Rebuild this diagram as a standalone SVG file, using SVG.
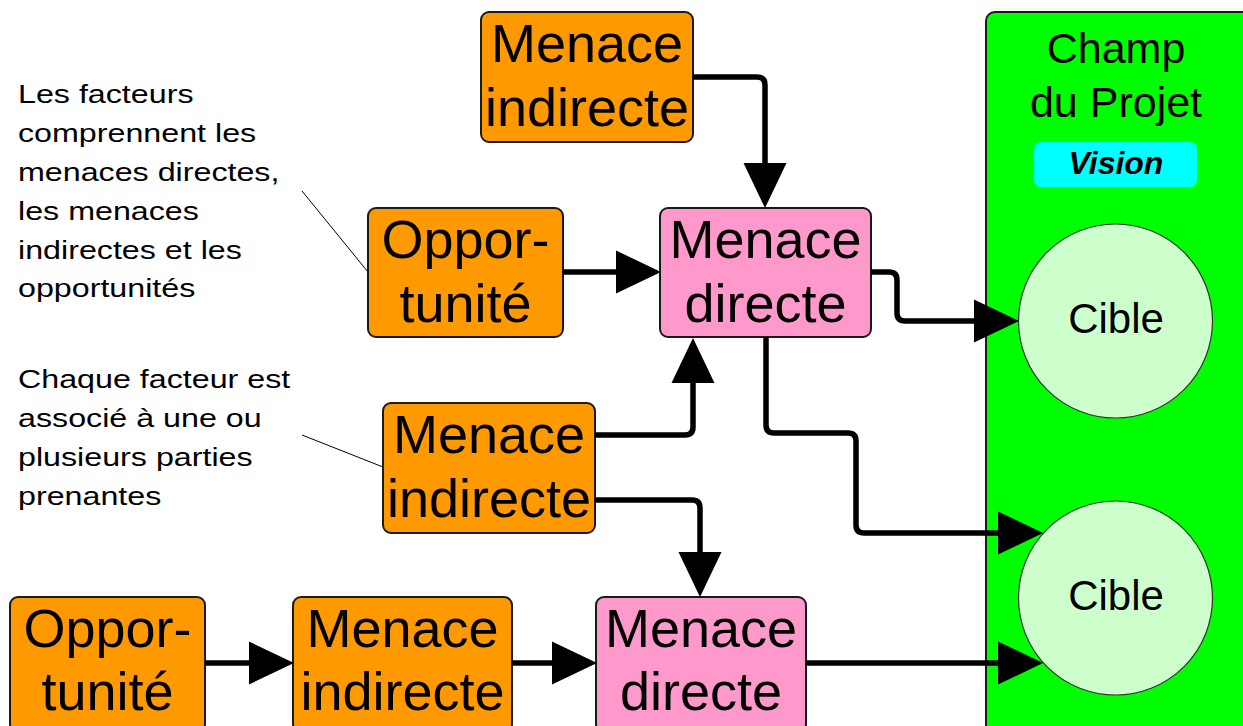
<svg xmlns="http://www.w3.org/2000/svg" width="1243" height="726" viewBox="0 0 1243 726">
<style>
text{font-family:"Liberation Sans",Arial,sans-serif;fill:#000}
.big{font-size:54px;text-anchor:middle}
.box{stroke:#1a1a1a;stroke-width:2}
.orange{fill:#ff9900}
.pink{fill:#ff99cc}
.note{font-size:26px}
.conn{fill:none;stroke:#000;stroke-width:5.5;stroke-linejoin:round}
.lead{stroke:#000;stroke-width:1;fill:none}
</style>
<defs>
<marker id="ah" markerUnits="userSpaceOnUse" markerWidth="46" markerHeight="44" refX="0" refY="21.5" orient="auto" overflow="visible">
<path d="M0,0 L45,21.5 L0,43 Z" fill="#000"/>
</marker>
</defs>
<rect width="1243" height="726" fill="#fff"/>

<g id="champ">
<rect x="986" y="12" width="270" height="725" rx="9" fill="#00ff00" stroke="#1a1a1a" stroke-width="2"/>
<text x="1116" y="63" style="font-size:43px;text-anchor:middle">Champ</text>
<text x="1116" y="117" style="font-size:43px;text-anchor:middle">du Projet</text>
</g>
<g id="vision">
<rect x="1034" y="142" width="163" height="45" rx="7" fill="#00ffff"/>
<text x="1116" y="174" style="font-size:32px;font-weight:bold;font-style:italic;text-anchor:middle">Vision</text>
</g>
<g id="cible1">
<circle cx="1115.5" cy="321" r="97" fill="#ccffcc" stroke="#333" stroke-width="1.2"/>
<text x="1116" y="333" style="font-size:42px;text-anchor:middle">Cible</text>
</g>
<g id="cible2">
<circle cx="1115.5" cy="598" r="97" fill="#ccffcc" stroke="#333" stroke-width="1.2"/>
<text x="1116" y="610" style="font-size:42px;text-anchor:middle">Cible</text>
</g>

<g id="note1">
<g transform="translate(18,0) scale(1.24,1)">
<text class="note" x="0" y="103">Les facteurs</text>
<text class="note" x="0" y="142">comprennent les</text>
<text class="note" x="0" y="181">menaces directes,</text>
<text class="note" x="0" y="220">les menaces</text>
<text class="note" x="0" y="259">indirectes et les</text>
<text class="note" x="0" y="297">opportunités</text>
</g>
<line class="lead" x1="302" y1="191" x2="368" y2="272"/>
</g>
<g id="note2">
<g transform="translate(18,0) scale(1.24,1)">
<text class="note" x="0" y="388">Chaque facteur est</text>
<text class="note" x="0" y="427">associé à une ou</text>
<text class="note" x="0" y="466">plusieurs parties</text>
<text class="note" x="0" y="505">prenantes</text>
</g>
<line class="lead" x1="302" y1="435" x2="383" y2="467"/>
</g>

<g id="mi-top">
<rect class="box orange" x="481" y="12" width="212" height="130" rx="8"/>
<text class="big" x="587" y="62">Menace</text>
<text class="big" x="587" y="126">indirecte</text>
</g>
<g id="opp-mid">
<rect class="box orange" x="368" y="208" width="195" height="129" rx="8"/>
<text class="big" x="465.5" y="258">Oppor-</text>
<text class="big" x="465.5" y="322">tunité</text>
</g>
<g id="md-top">
<rect class="box pink" x="660" y="208" width="211" height="129" rx="8"/>
<text class="big" x="765.5" y="258">Menace</text>
<text class="big" x="765.5" y="322">directe</text>
</g>
<g id="mi-mid">
<rect class="box orange" x="383" y="403" width="212" height="130" rx="8"/>
<text class="big" x="489" y="453">Menace</text>
<text class="big" x="489" y="517">indirecte</text>
</g>
<g id="opp-bot">
<rect class="box orange" x="10" y="597" width="195" height="135" rx="8"/>
<text class="big" x="107.5" y="647">Oppor-</text>
<text class="big" x="107.5" y="710">tunité</text>
</g>
<g id="mi-bot">
<rect class="box orange" x="293" y="597" width="219" height="135" rx="8"/>
<text class="big" x="402.5" y="647">Menace</text>
<text class="big" x="402.5" y="710">indirecte</text>
</g>
<g id="md-bot">
<rect class="box pink" x="596" y="597" width="210" height="135" rx="8"/>
<text class="big" x="701" y="647">Menace</text>
<text class="big" x="701" y="710">directe</text>
</g>

<g id="connectors">
<path class="conn" marker-end="url(#ah)" d="M693,77 H757 Q765,77 765,85 V163"/>
<path class="conn" marker-end="url(#ah)" d="M563,272 H616"/>
<path class="conn" marker-end="url(#ah)" d="M871,272 H889 Q897,272 897,280 V313 Q897,321 905,321 H974"/>
<path class="conn" marker-end="url(#ah)" d="M766,337 V425 Q766,433 774,433 H848 Q856,433 856,441 V525 Q856,533 864,533 H998"/>
<path class="conn" marker-end="url(#ah)" d="M595,435 H685 Q693,435 693,427 V383"/>
<path class="conn" marker-end="url(#ah)" d="M595,500 H692 Q700,500 700,508 V552"/>
<path class="conn" marker-end="url(#ah)" d="M205,663 H249"/>
<path class="conn" marker-end="url(#ah)" d="M512,663 H552"/>
<path class="conn" marker-end="url(#ah)" d="M806,663 H998"/>
</g>
</svg>
